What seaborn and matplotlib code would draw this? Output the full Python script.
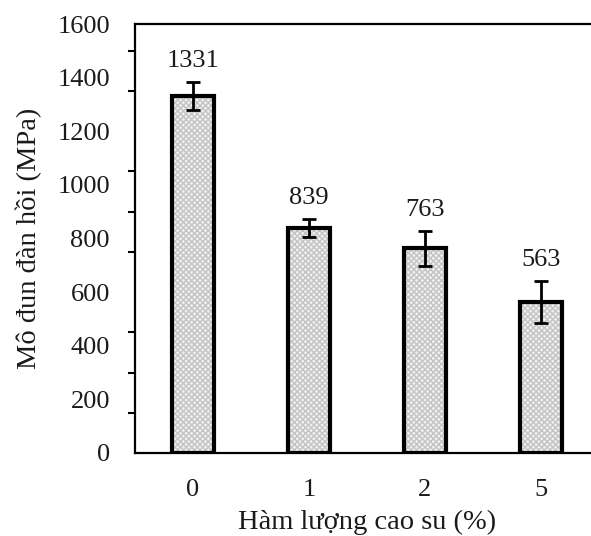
import matplotlib
matplotlib.use("Agg")
import matplotlib.pyplot as plt
import seaborn as sns
import pandas as pd
from matplotlib.ticker import MultipleLocator

# Rubber content (%) and elastic modulus (MPa) with error bars
rubber_content = ["0", "1", "2", "5"]
modulus = [1331, 839, 763, 563]
modulus_err = [52, 35, 65, 78]
y_ticks = [0, 200, 400, 600, 800, 1000, 1200, 1400, 1600]

df = pd.DataFrame({"rubber": rubber_content, "modulus": modulus})

sns.set_theme(style="white")
plt.rcParams["font.family"] = ["Liberation Serif", "DejaVu Serif"]

FS = 19
LFS = 20.5
TXT = "#1a1a1a"

fig = plt.figure(figsize=(5.91, 5.36), dpi=100)
ax = fig.add_axes([0.2284, 0.1549, 0.785, 0.8003])

# dotted grey fill
sns.barplot(data=df, x="rubber", y="modulus", ax=ax, width=0.355,
            color="#f0f0f0", edgecolor="#c4c4c4", linewidth=0,
            hatch="xxxxxx", errorbar=None, saturation=1)
# black outlines
sns.barplot(data=df, x="rubber", y="modulus", ax=ax, width=0.355,
            fill=False, edgecolor="black", linewidth=3.0, errorbar=None)

xpos = list(range(len(rubber_content)))
ax.errorbar(xpos, modulus, yerr=modulus_err, fmt="none", ecolor="black",
            elinewidth=2.0, capsize=5, capthick=2.0, zorder=5)

for x, v, e in zip(xpos, modulus, modulus_err):
    ax.annotate(f"{v}", (x, v + e), xytext=(0, 7), textcoords="offset points",
                ha="center", va="bottom", fontsize=FS, color=TXT)

ax.set_xlim(-0.5, 3.5)
ax.set_ylim(0, 1600)
ax.set_yticks(y_ticks)
ax.set_yticklabels([str(t) for t in y_ticks])
ax.yaxis.set_minor_locator(MultipleLocator(150))
ax.tick_params(axis="y", which="major", length=0, pad=18, labelsize=FS,
               labelcolor=TXT)
ax.tick_params(axis="y", which="minor", left=True, length=5, width=1.5,
               color="black")
ax.tick_params(axis="x", length=0, pad=19, labelsize=FS, labelcolor=TXT)

ax.set_xlabel("Hàm lượng cao su (%)", fontsize=LFS, labelpad=6, color=TXT)
ax.set_ylabel("Mô đun đàn hồi (MPa)", fontsize=LFS, labelpad=11, color=TXT)

for side in ["left", "bottom", "top", "right"]:
    ax.spines[side].set_color("black")
    ax.spines[side].set_linewidth(1.6)
    ax.spines[side].set_visible(True)

fig.savefig("out.png", dpi=100)
